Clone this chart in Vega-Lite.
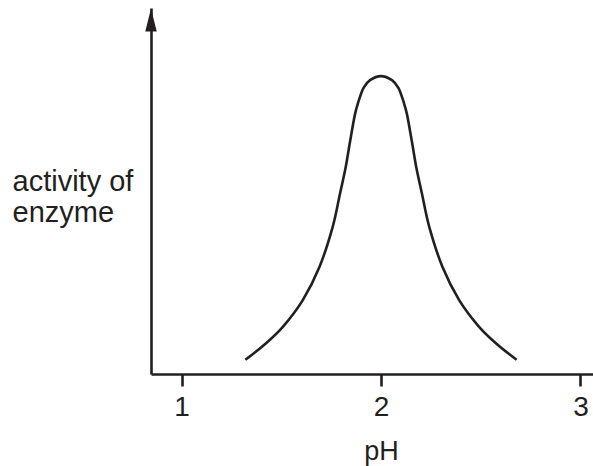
{
  "$schema": "https://vega.github.io/schema/vega-lite/v6.json",
  "autosize": "none",
  "width": 442,
  "height": 366,
  "padding": {"left": 151, "top": 8, "right": 0, "bottom": 92},
  "background": "white",
  "config": {
    "view": {"stroke": null},
    "font": "Liberation Sans"
  },
  "datasets": {
    "curve": [
      {"pH": 1.32, "activity": 0.039},
      {"pH": 1.415, "activity": 0.08},
      {"pH": 1.508, "activity": 0.129},
      {"pH": 1.608, "activity": 0.202},
      {"pH": 1.692, "activity": 0.293},
      {"pH": 1.758, "activity": 0.402},
      {"pH": 1.795, "activity": 0.494},
      {"pH": 1.822, "activity": 0.562},
      {"pH": 1.845, "activity": 0.635},
      {"pH": 1.869, "activity": 0.708},
      {"pH": 1.887, "activity": 0.744},
      {"pH": 1.912, "activity": 0.781},
      {"pH": 1.945, "activity": 0.803},
      {"pH": 2.0, "activity": 0.814},
      {"pH": 2.055, "activity": 0.803},
      {"pH": 2.088, "activity": 0.781},
      {"pH": 2.113, "activity": 0.744},
      {"pH": 2.131, "activity": 0.708},
      {"pH": 2.155, "activity": 0.635},
      {"pH": 2.178, "activity": 0.562},
      {"pH": 2.205, "activity": 0.494},
      {"pH": 2.242, "activity": 0.402},
      {"pH": 2.308, "activity": 0.293},
      {"pH": 2.392, "activity": 0.202},
      {"pH": 2.492, "activity": 0.129},
      {"pH": 2.585, "activity": 0.08},
      {"pH": 2.68, "activity": 0.039}
    ],
    "arrow": [
      {"pH": 0.847, "activity": 0.967}
    ]
  },
  "layer": [
    {
      "data": {"name": "curve"},
      "mark": {"type": "line", "interpolate": "cardinal", "tension": 0, "color": "#231f20", "strokeWidth": 2.6},
      "encoding": {
        "x": {
          "field": "pH",
          "type": "quantitative",
          "scale": {"domain": [0.847, 3.063], "nice": false, "zero": false},
          "axis": {
            "values": [1, 2, 3],
            "format": "d",
            "grid": false,
            "domainColor": "#231f20",
            "domainWidth": 2.6,
            "tickColor": "#231f20",
            "tickWidth": 2.6,
            "tickSize": 12,
            "labelFontSize": 28,
            "labelColor": "#231f20",
            "labelPadding": 7,
            "labelFont": "Liberation Sans",
            "labelOverlap": false,
            "labelBound": false,
            "title": "pH",
            "titleFontSize": 27,
            "titleFontWeight": "normal",
            "titleColor": "#231f20",
            "titleFont": "Liberation Sans",
            "titleX": 230,
            "titleY": 85,
            "titleAlign": "center",
            "titleBaseline": "alphabetic"
          }
        },
        "y": {
          "field": "activity",
          "type": "quantitative",
          "scale": {"domain": [0, 1], "nice": false, "zero": true},
          "axis": {
            "grid": false,
            "ticks": false,
            "labels": false,
            "domainColor": "#231f20",
            "domainWidth": 2.6,
            "title": ["activity of", "enzyme"],
            "titleAngle": 0,
            "titleAlign": "left",
            "titleBaseline": "alphabetic",
            "titleFontSize": 29,
            "titleFontWeight": "normal",
            "titleColor": "#231f20",
            "titleFont": "Liberation Sans",
            "titleLineHeight": 31,
            "titleX": -139,
            "titleY": 182
          }
        }
      }
    },
    {
      "data": {"name": "arrow"},
      "mark": {"type": "point", "shape": "M0,-1L0.5,1L-0.5,1Z", "filled": true, "color": "#231f20", "opacity": 1, "size": 529, "strokeWidth": 0},
      "encoding": {
        "x": {"field": "pH", "type": "quantitative"},
        "y": {"field": "activity", "type": "quantitative"}
      }
    }
  ]
}
